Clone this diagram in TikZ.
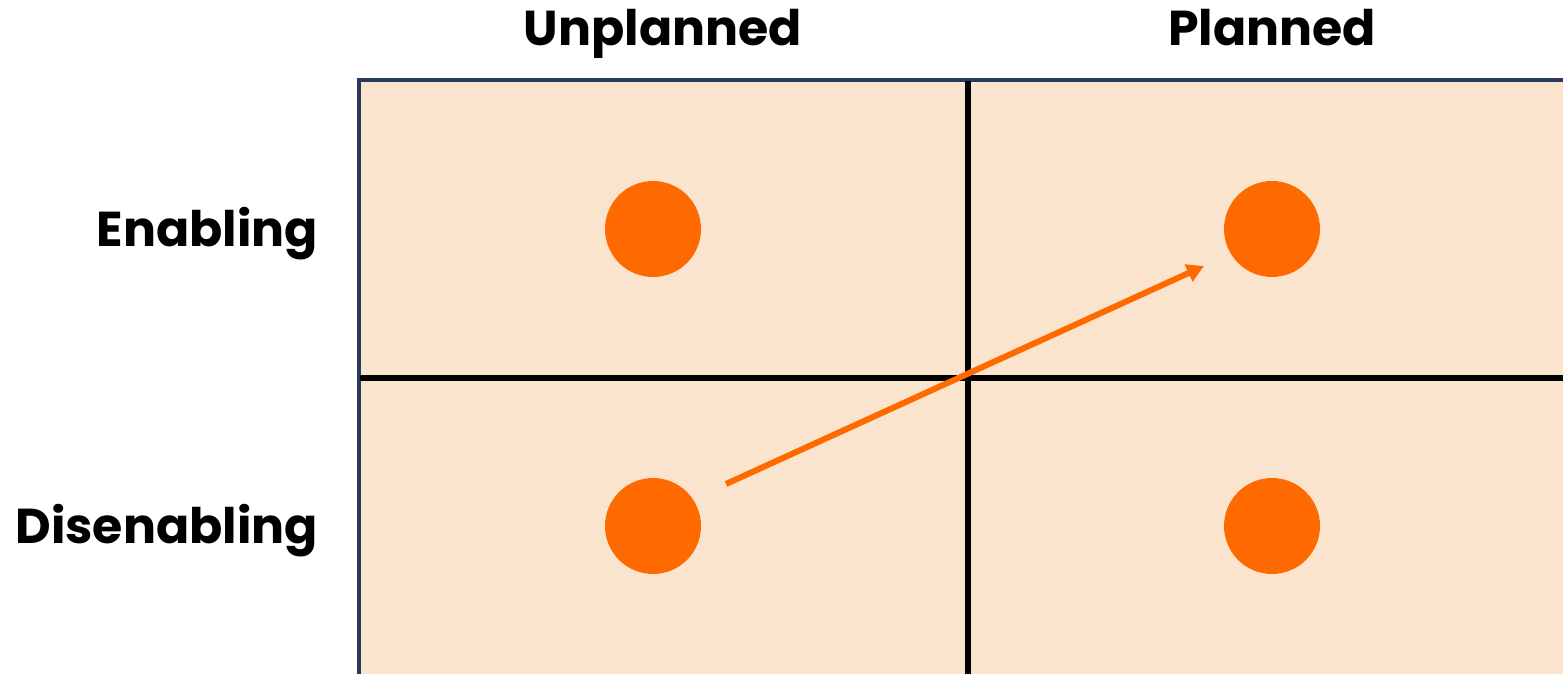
\documentclass[tikz,border=0pt]{standalone}
\usepackage{fontspec}
\setmainfont{Poppins}
\usetikzlibrary{arrows.meta}
\definecolor{cellfill}{HTML}{FBE4CD}
\definecolor{frame}{HTML}{2A3A5C}
\definecolor{dot}{HTML}{FF6A00}
\begin{document}
\begin{tikzpicture}[x=1pt,y=-1pt,
  label/.style={font=\fontsize{49}{52}\selectfont\bfseries, inner sep=0pt},
  dotnode/.style={circle, fill=dot, minimum size=96pt, inner sep=0pt},
  divider/.style={line width=6pt, black}]
\useasboundingbox (0,0) rectangle (1563,674);
% grid background
\fill[cellfill] (359,80) rectangle (1563,674);
\draw[frame, line width=3.5pt] (359,674) -- (359,80) -- (1563,80);
% quadrant dividers
\coordinate (vtop) at (968,81);
\coordinate (vbot) at (968,674);
\coordinate (hl) at (360,378);
\coordinate (hr) at (1563,378);
\draw[divider] (vtop) -- (vbot);
\draw[divider] (hl) -- (hr);
% headers
\node[label, anchor=base] (unpl) at (663,46) {Unplanned};
\node[label, anchor=base] (pl) at (1272,46) {Planned};
\node[label, anchor=base east] (en) at (318,246) {Enabling};
\node[label, anchor=base east] (dis) at (318,543) {Disenabling};
% quadrant dots
\node[dotnode] (ue) at (653,229) {};
\node[dotnode] (pe) at (1272,229) {};
\node[dotnode] (ud) at (653,526) {};
\node[dotnode] (pd) at (1272,526) {};
% shift from unplanned/disenabling towards planned/enabling
\coordinate (astart) at (726,484);
\coordinate (aend) at (1204,266);
\draw[dot, line width=6pt, -{Triangle[length=17pt,width=18pt]}] (astart) -- (aend);
\end{tikzpicture}
\end{document}
